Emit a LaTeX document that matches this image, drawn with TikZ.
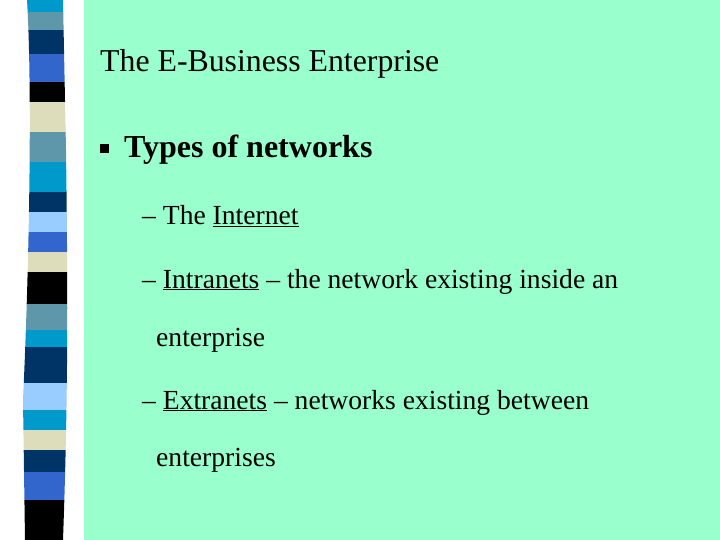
\documentclass[tikz,border=0pt]{standalone}
\usepackage{fontspec}
\setmainfont{Liberation Serif}
\definecolor{bg}{HTML}{99FFCC}
\definecolor{cy}{HTML}{0099CC}
\definecolor{st}{HTML}{5F97AA}
\definecolor{nv}{HTML}{003366}
\definecolor{rb}{HTML}{3366CC}
\definecolor{bk}{HTML}{000000}
\definecolor{be}{HTML}{DDDDBB}
\definecolor{lb}{HTML}{99CCFF}
\begin{document}
\begin{tikzpicture}[x=1pt,y=-1pt,
  txt/.style={anchor=base west,inner sep=0pt,font=\fontsize{27.6}{30}\selectfont}]
\useasboundingbox (0,0) rectangle (720,540);
\fill[white] (0,0) rectangle (720,540);
\fill[bg] (84,0) rectangle (720,540);
\begin{scope}
\clip (27,0) .. controls (32,80) and (30,250) .. (23,400) -- (25,540) -- (63,540) .. controls (68,400) and (68,300) .. (66,150) -- (63,0) -- cycle;
\foreach \a/\b/\c in {0/12/cy,12/30/st,30/54/nv,54/82/rb,82/102/bk,102/132/be,132/162/st,162/192/cy,192/212/nv,212/232/lb,232/252/rb,252/272/be,272/304/bk,304/330/st,330/347/cy,347/383/nv,383/410/lb,410/430/cy,430/450/be,450/472/nv,472/500/rb,500/540/bk}
  \fill[\c] (0,\a) rectangle (90,\b);
\end{scope}
\node[txt,font=\fontsize{31.8}{34}\selectfont] (title) at (100,72) {The E-Business Enterprise};
\fill (100,144) rectangle (109,153);
\node[txt,font=\fontsize{32}{34}\selectfont\bfseries] (types) at (124,158) {Types of networks};
\node[txt] (l1) at (142,225) {– The \underline{Internet}};
\node[txt] (l2) at (142,288) {– \underline{Intranets} – the network existing inside an};
\node[txt] (l3) at (156,346) {enterprise};
\node[txt] (l4) at (142,409) {– \underline{Extranets} – networks existing between};
\node[txt] (l5) at (156,466) {enterprises};
\end{tikzpicture}
\end{document}
